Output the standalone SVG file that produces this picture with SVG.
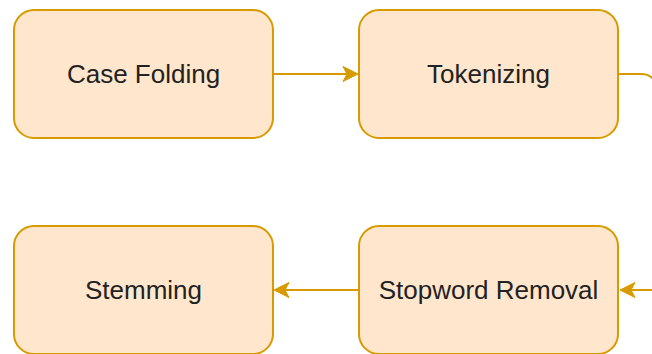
<svg xmlns="http://www.w3.org/2000/svg" width="652" height="354" viewBox="0 0 652 354">
  <style>
    .box { fill: #ffe6cc; stroke: #d79b00; stroke-width: 2; }
    .label { font-family: "Liberation Sans", Arial, Helvetica, sans-serif; font-size: 26px; fill: #222222; text-anchor: middle; dominant-baseline: central; }
    .edge { fill: none; stroke: #d79b00; stroke-width: 2; }
    .head { fill: #d79b00; stroke: #d79b00; stroke-width: 1; stroke-linejoin: miter; }
  </style>
  <rect width="652" height="354" fill="#ffffff"/>

  <g id="case-folding">
    <rect class="box" x="14" y="10" width="259" height="128" rx="20" ry="20"/>
    <text class="label" x="143.5" y="74">Case Folding</text>
  </g>

  <g id="tokenizing">
    <rect class="box" x="359" y="10" width="259" height="128" rx="20" ry="20"/>
    <text class="label" x="488.5" y="74">Tokenizing</text>
  </g>

  <g id="stemming">
    <rect class="box" x="14" y="226" width="259" height="128" rx="20" ry="20"/>
    <text class="label" x="143.5" y="290">Stemming</text>
  </g>

  <g id="stopword-removal">
    <rect class="box" x="359" y="226" width="259" height="128" rx="20" ry="20"/>
    <text class="label" x="488.5" y="290">Stopword Removal</text>
  </g>

  <g id="connectors">
    <!-- Case Folding -> Tokenizing -->
    <path class="edge" d="M273 74 H350"/>
    <path class="head" d="M358 74 L343 66.5 L347 74 L343 81.5 Z"/>
    <!-- Tokenizing -> (off to the right, bending down) -->
    <path class="edge" d="M618 74 H641 Q649 74 653 79"/>
    <!-- (from the right) -> Stopword Removal -->
    <path class="edge" d="M653 290 H628"/>
    <path class="head" d="M620 290 L635 282.5 L631 290 L635 297.5 Z"/>
    <!-- Stopword Removal -> Stemming -->
    <path class="edge" d="M359 290 H282"/>
    <path class="head" d="M274 290 L289 282.5 L285 290 L289 297.5 Z"/>
  </g>
</svg>
